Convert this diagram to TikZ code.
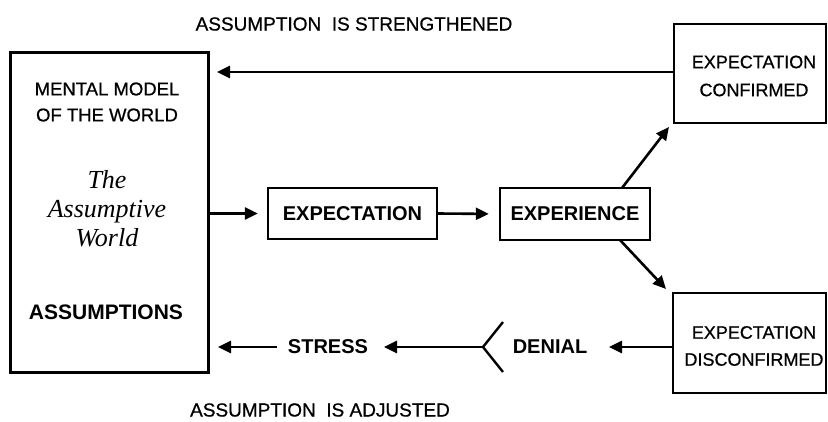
\documentclass[tikz,border=0pt]{standalone}
\usepackage{fontspec}
\setmainfont{Liberation Sans}
\newfontfamily\serifit{Liberation Serif}
\newfontfamily\heavyreg[FakeBold=0.7]{Liberation Sans}
\usetikzlibrary{arrows.meta}
\begin{document}
\begin{tikzpicture}[x=1pt,y=-1pt,
  box/.style={draw,line width=2.4pt,inner sep=0pt},
  arr/.style={line width=2.6pt,-{Triangle[length=13pt,width=12pt]}},
  lbl/.style={font=\fontsize{19}{22}\selectfont\heavyreg,inner sep=0pt,align=center},
  blbl/.style={font=\fontsize{20}{23}\selectfont\bfseries,inner sep=0pt,align=center},
  itl/.style={font=\fontsize{26}{29}\selectfont\serifit\itshape,inner sep=0pt,align=center}]
\useasboundingbox (0,0) rectangle (828,421);
% boxes
\node[box,line width=3pt,minimum width=198pt,minimum height=320pt] (L) at (109,212) {};
\node[box,minimum width=169pt,minimum height=51pt] (EX) at (352.5,213.5) {};
\node[box,minimum width=150pt,minimum height=52pt] (EP) at (575,214) {};
\node[box,minimum width=152pt,minimum height=99pt] (C) at (750,73.5) {};
\node[box,minimum width=153pt,minimum height=100pt] (D) at (749.5,343) {};
% texts
\node[lbl,font=\fontsize{18.5}{26}\selectfont\heavyreg] (mm) at (107,102) {MENTAL MODEL\\OF THE WORLD};
\node[itl] (aw) at (107,209) {The\\[0pt]Assumptive\\[0pt]World};
\node[blbl,font=\fontsize{21}{24}\selectfont\bfseries] (as) at (106,312) {ASSUMPTIONS};
\node[blbl] (ext) at (EX) {EXPECTATION};
\node[blbl] (ept) at (EP) {EXPERIENCE};
\node[lbl,font=\fontsize{18}{28}\selectfont\heavyreg] (ct) at (754,76) {EXPECTATION\\CONFIRMED};
\node[lbl,font=\fontsize{18}{27}\selectfont\heavyreg] (dt) at (754,346) {EXPECTATION\\DISCONFIRMED};
\node[blbl] (den) at (550,347) {DENIAL};
\node[blbl] (st) at (328,347) {STRESS};
\node[lbl] (top) at (354,24) {ASSUMPTION\ \ IS STRENGTHENED};
\node[lbl] (bot) at (320,410) {ASSUMPTION\ \ IS ADJUSTED};
% connector end points
\coordinate (v) at (483,347);
\coordinate (va) at (503,322);
\coordinate (vb) at (503,372);
\coordinate (t1) at (217,72);
\coordinate (t2) at (609,347);
\coordinate (t3) at (384,347);
\coordinate (s1) at (277,347);
\coordinate (t4) at (218,347);
\coordinate (e1) at (622,188);
\coordinate (e2) at (669,127);
\coordinate (e3) at (620,240);
\coordinate (e4) at (666,289);
% connectors
\draw[arr] (C.west |- t1) -- (t1);
\draw[arr,shorten >=9pt] (L.east |- EX) -- (EX.west);
\draw[arr,shorten >=10pt] (EX.east) -- (EP.west);
\draw[arr] (e1) -- (e2);
\draw[arr] (e3) -- (e4);
\draw[arr] (D.west |- t2) -- (t2);
\draw[line width=2.4pt] (va) -- (v) -- (vb);
\draw[arr] (v) -- (t3);
\draw[arr] (s1) -- (t4);
\end{tikzpicture}
\end{document}
